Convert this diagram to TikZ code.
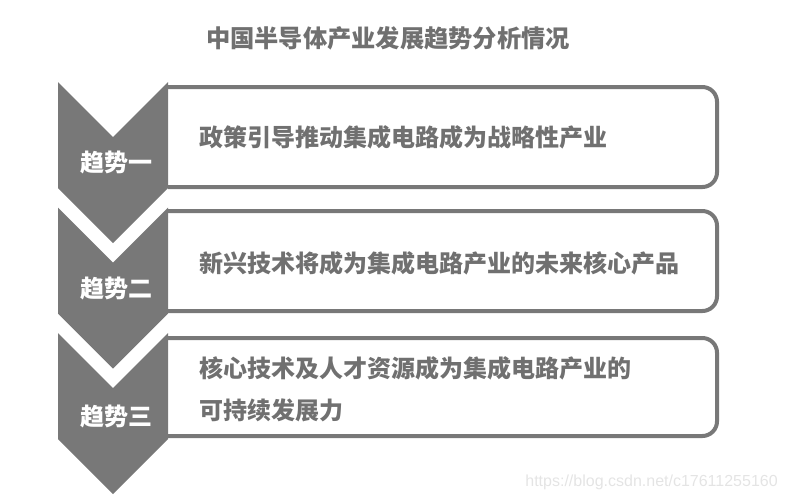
\documentclass[tikz,border=0pt]{standalone}
\usepackage{fontspec}
\setmainfont{Noto Sans CJK SC}
\newfontfamily\wmfont{Liberation Sans}
\definecolor{chev}{RGB}{120,120,120}
\definecolor{txtg}{RGB}{112,112,112}
\definecolor{wm}{RGB}{228,228,228}
\begin{document}
\begin{tikzpicture}[x=0.75pt,y=-0.75pt,
  chevbox/.style={fill=chev,draw=none},
  panel/.style={draw=chev,line width=3pt,rounded corners=11pt},
  lbl/.style={text=white,font=\fontsize{18}{20}\selectfont\bfseries,inner sep=0pt},
  body/.style={text=txtg,font=\fontsize{18}{31.5}\selectfont\bfseries,inner sep=0pt,anchor=west,align=left},
  ttl/.style={text=txtg,font=\fontsize{18.2}{20}\selectfont\bfseries,inner sep=0pt}]
\useasboundingbox (0,0) rectangle (787,500);
% panels
\draw[panel] (168,87) -- (717,87) -- (717,187) -- (168,187);
\draw[panel] (168,211) -- (717,211) -- (717,311) -- (168,311);
\draw[panel] (168,338) -- (717,338) -- (717,436) -- (168,436);
% chevrons
\foreach \t/\n in {82/c1,207.5/c2,333/c3}{
  \fill[chevbox] (58,\t) -- (113,\t+55) -- (168,\t) -- (168,\t+106) -- (113,\t+161) -- (58,\t+106) -- cycle;
}
\node[lbl] (l1) at (116,162) {趋势一};
\node[lbl] (l2) at (116,288) {趋势二};
\node[lbl] (l3) at (116,416) {趋势三};
\node[body] (t1) at (199,137) {政策引导推动集成电路成为战略性产业};
\node[body] (t2) at (199,263) {新兴技术将成为集成电路产业的未来核心产品};
\node[body] (t3) at (199,389) {核心技术及人才资源成为集成电路产业的\\可持续发展力};
\node[ttl] (title) at (388,38) {中国半导体产业发展趋势分析情况};
\node[text=wm,font=\wmfont\fontsize{12}{13}\selectfont,inner sep=0pt,anchor=east] (w) at (778,482) {https://blog.csdn.net/c17611255160};
\end{tikzpicture}
\end{document}
